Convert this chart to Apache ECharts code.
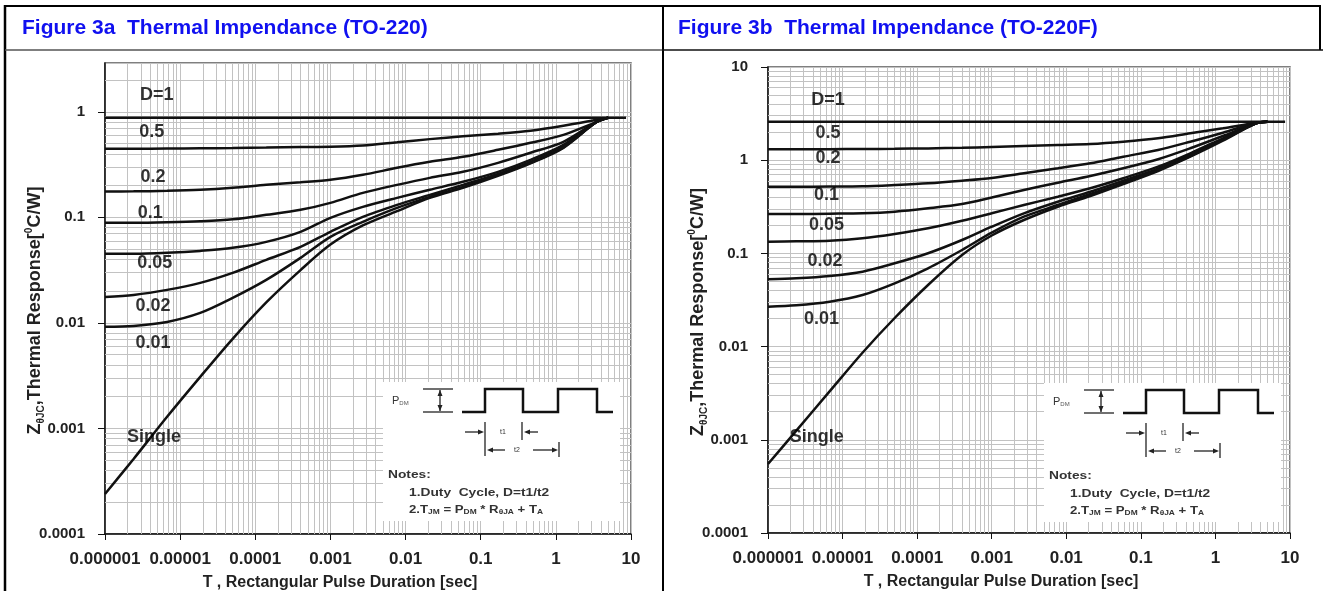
<!DOCTYPE html>
<html><head><meta charset="utf-8">
<script src="https://cdn.jsdelivr.net/npm/echarts@6/dist/echarts.min.js"></script>
<style>html,body{margin:0;padding:0;background:#fff;}#c{width:1323px;height:591px;}</style>
</head><body><div id="c"></div>
<script>
// ---------- data ----------
const times = [1e-6, 2.4e-6, 6.7e-6, 1.85e-5, 5e-5, 1.4e-4, 4e-4, 1e-3, 2.7e-3, 7.7e-3, 0.021, 0.058, 0.17, 0.46, 1.26, 3.5, 5, 8.6];
const seriesNames = ['D=1', '0.5', '0.2', '0.1', '0.05', '0.02', '0.01', 'Single'];

// Figure 3a (TO-220)
const a_D1     = [0.88, 0.88, 0.88, 0.88, 0.88, 0.88, 0.88, 0.88, 0.88, 0.88, 0.88, 0.88, 0.88, 0.88, 0.88, 0.88, 0.88, 0.88];
const a_D05    = [0.446, 0.446, 0.448, 0.451, 0.454, 0.458, 0.463, 0.466, 0.479, 0.514, 0.551, 0.586, 0.619, 0.661, 0.737, 0.840, 0.88, null];
const a_D02    = [0.1756, 0.1764, 0.1783, 0.1823, 0.1904, 0.2032, 0.2146, 0.2267, 0.2528, 0.2945, 0.3357, 0.3745, 0.4363, 0.5083, 0.6053, 0.804, 0.88, null];
const a_D01    = [0.0887, 0.0887, 0.0897, 0.0917, 0.0957, 0.1056, 0.1178, 0.1372, 0.1707, 0.2032, 0.2367, 0.2700, 0.3285, 0.4088, 0.5195, 0.804, 0.88, null];
const a_D005   = [0.0451, 0.0451, 0.0461, 0.0481, 0.0514, 0.0586, 0.0729, 0.0989, 0.1257, 0.1530, 0.1823, 0.2171, 0.2700, 0.3508, 0.4866, 0.804, 0.88, null];
const a_D002   = [0.01764, 0.01842, 0.02055, 0.02394, 0.02977, 0.03956, 0.05253, 0.0729, 0.1011, 0.1314, 0.1634, 0.2032, 0.2584, 0.3357, 0.4658, 0.804, 0.88, null];
const a_D001   = [0.00917, 0.00937, 0.01022, 0.01244, 0.01726, 0.02556, 0.0413, 0.0653, 0.0907, 0.1230, 0.1564, 0.1946, 0.2528, 0.3285, 0.4608, 0.804, 0.88, null];
const a_Single = [2.393e-4, 5.14e-4, 1.29e-3, 3.083e-3, 7.07e-3, 0.01564, 0.03166, 0.0552, 0.0838, 0.1145, 0.1530, 0.1904, 0.2473, 0.3249, 0.4558, 0.804, 0.88, null];

// Figure 3b (TO-220F)
const b_D1     = [2.59, 2.59, 2.59, 2.59, 2.59, 2.59, 2.59, 2.59, 2.59, 2.59, 2.59, 2.59, 2.59, 2.59, 2.59, 2.59, 2.59, 2.59];
const b_D05    = [1.309, 1.309, 1.312, 1.319, 1.326, 1.339, 1.359, 1.386, 1.420, 1.456, 1.492, 1.579, 1.718, 1.944, 2.199, 2.526, 2.589, null];
const b_D02    = [0.5196, 0.5196, 0.5208, 0.5248, 0.5419, 0.5651, 0.6026, 0.6442, 0.7233, 0.8187, 0.9263, 1.0904, 1.286, 1.579, 1.973, 2.526, 2.589, null];
const b_D01    = [0.2647, 0.2647, 0.2667, 0.2693, 0.2802, 0.3047, 0.3388, 0.3979, 0.4789, 0.5736, 0.6767, 0.8187, 1.0226, 1.342, 1.818, 2.489, 2.589, null];
const b_D005   = [0.1335, 0.1348, 0.1368, 0.1452, 0.1615, 0.1859, 0.2243, 0.2693, 0.3306, 0.4058, 0.4995, 0.6394, 0.8517, 1.186, 1.718, 2.489, 2.589, null];
const b_D002   = [0.05273, 0.05405, 0.05721, 0.06364, 0.07829, 0.1003, 0.1392, 0.1934, 0.2693, 0.3587, 0.4592, 0.6026, 0.8107, 1.137, 1.676, 2.489, 2.589, null];
const b_D001   = [0.02680, 0.02773, 0.03032, 0.03578, 0.04777, 0.06921, 0.1088, 0.1668, 0.2475, 0.3306, 0.4338, 0.5736, 0.7849, 1.1094, 1.647, 2.489, 2.589, null];
const b_Single = [5.497e-4, 1.255e-3, 3.306e-3, 8.6e-3, 0.02027, 0.04581, 0.0961, 0.1556, 0.2282, 0.3170, 0.4128, 0.5554, 0.7660, 1.0904, 1.619, 2.489, 2.589, null];

// curve label anchors (data space)
const labelsA = [['D=1', 4.9e-6, 1.45], ['0.5', 4.2e-6, 0.646], ['0.2', 4.36e-6, 0.242], ['0.1', 4.0e-6, 0.110], ['0.05', 4.6e-6, 0.037], ['0.02', 4.36e-6, 0.0145], ['0.01', 4.36e-6, 0.00646], ['Single', 4.5e-6, 8.3e-4]];
const labelsB = [['D=1', 6.4e-6, 4.43], ['0.5', 6.4e-6, 1.94], ['0.2', 6.4e-6, 1.05], ['0.1', 6.1e-6, 0.423], ['0.05', 6.1e-6, 0.2017], ['0.02', 5.8e-6, 0.0835], ['0.01', 5.2e-6, 0.0196], ['Single', 4.5e-6, 1.08e-3]];

// tick labels
const xTickLabels = ['0.000001', '0.00001', '0.0001', '0.001', '0.01', '0.1', '1', '10'];
const yTickLabels = ['0.0001', '0.001', '0.01', '0.1', '1', '10'];

const titleA = 'Figure 3a  Thermal Impendance (TO-220)';
const titleB = 'Figure 3b  Thermal Impendance (TO-220F)';
const xName = 'T , Rectangular Pulse Duration [sec]';

// ---------- chart ----------
const FONT = 'Liberation Sans, Arial, sans-serif';
const chart = echarts.init(document.getElementById('c'));

function minorVals(e0, e1, maxV) {
  const a = [];
  for (let e = e0; e <= e1; e++) for (let k = 2; k <= 9; k++) { const v = k * Math.pow(10, e); if (v < maxV) a.push(v); }
  return a;
}
const GRIDC = '#c2c2c2';
function gridSeries(idx, yMax) {
  const d = minorVals(-6, 0, 10).map(v => ({ xAxis: v })).concat(minorVals(-4, 0, yMax).map(v => ({ yAxis: v })));
  return { type: 'line', xAxisIndex: idx, yAxisIndex: idx, data: [], z: 1, silent: true,
    markLine: { silent: true, symbol: 'none', animation: false, precision: 20, label: { show: false },
      lineStyle: { color: GRIDC, width: 1, type: 'solid' }, emphasis: { disabled: true }, data: d } };
}
function curve(idx, name, vals) {
  const data = [];
  times.forEach((t, i) => { if (vals[i] != null) data.push([t, vals[i]]); });
  return { type: 'line', name, xAxisIndex: idx, yAxisIndex: idx, data, symbol: 'none', showSymbol: false,
    smooth: 0.3, silent: true, z: 5,
    lineStyle: { color: '#111', width: 2.5 } };
}
function labelSeries(idx, arr) {
  return { type: 'scatter', xAxisIndex: idx, yAxisIndex: idx, symbolSize: 0, silent: true, z: 6,
    data: arr.map(l => [l[1], l[2], l[0]]),
    label: { show: true, position: 'inside', formatter: p => p.data[2], color: '#000', fontSize: 18, fontWeight: 'bold', fontFamily: FONT } };
}
function xAxis(idx) {
  return { type: 'log', gridIndex: idx, min: 1e-6, max: 10, logBase: 10,
    name: xName, nameLocation: 'middle', nameGap: 41, nameMoveOverlap: false,
    nameTextStyle: { color: '#222', fontSize: 16, fontWeight: 'bold', fontFamily: FONT, padding: [0, 56, 0, 0] },
    axisLine: { show: true, lineStyle: { color: '#111', width: 1.5 } },
    axisTick: { show: true, length: 6, lineStyle: { color: '#111' } },
    axisLabel: { margin: 17, color: '#222', fontSize: 17, fontWeight: 'bold', fontFamily: FONT,
      formatter: v => xTickLabels[Math.round(Math.log10(v)) + 6] },
    splitLine: { show: true, lineStyle: { color: GRIDC, width: 1 } } };
}
function yAxis(idx, max) {
  return { type: 'log', gridIndex: idx, min: 1e-4, max, logBase: 10,
    name: 'Z{sub|θJC},Thermal Response[{sup|0}C/W]', nameLocation: 'middle', nameGap: 59, nameMoveOverlap: false,
    nameTextStyle: { color: '#222', fontSize: 18, fontWeight: 'bold', fontFamily: FONT, lineHeight: 22, padding: [0, 24, 0, 0],
      rich: { sub: { fontSize: 10, fontWeight: 'bold', verticalAlign: 'bottom', lineHeight: 22, fontFamily: FONT, color: '#222' },
              sup: { fontSize: 10, fontWeight: 'bold', verticalAlign: 'top', lineHeight: 22, fontFamily: FONT, color: '#222' } } },
    axisLine: { show: true, lineStyle: { color: '#111', width: 1.5 } },
    axisTick: { show: true, length: 7, lineStyle: { color: '#111' } },
    axisLabel: { margin: 20, color: '#222', fontSize: 15, fontWeight: 'bold', fontFamily: FONT, showMaxLabel: max >= 10,
      formatter: v => yTickLabels[Math.round(Math.log10(v)) + 4] },
    splitLine: { show: true, lineStyle: { color: GRIDC, width: 1 } } };
}

// inset diagram
function inset(ox, oy) {
  const g = [];
  const C = '#222';
  const L = (x1, y1, x2, y2, w) => g.push({ type: 'line', silent: true, z: 21,
    shape: { x1: ox + x1, y1: oy + y1, x2: ox + x2, y2: oy + y2 }, style: { stroke: C, lineWidth: w || 1.3 } });
  const A = (x, y, dir) => {
    let p;
    if (dir === 'r') p = [[x, y], [x - 6, y - 2.5], [x - 6, y + 2.5]];
    if (dir === 'l') p = [[x, y], [x + 6, y - 2.5], [x + 6, y + 2.5]];
    if (dir === 'u') p = [[x, y], [x - 2.5, y + 6], [x + 2.5, y + 6]];
    if (dir === 'd') p = [[x, y], [x - 2.5, y - 6], [x + 2.5, y - 6]];
    g.push({ type: 'polygon', silent: true, z: 21, shape: { points: p.map(q => [ox + q[0], oy + q[1]]) }, style: { fill: C } });
  };
  const T = (x, y, text, size, bold, sx, rich) => g.push({ type: 'text', silent: true, z: 21, x: ox + x, y: oy + y, scaleX: sx || 1,
    style: { text, fill: '#333', font: (bold ? 'bold ' : '') + size + 'px ' + FONT, verticalAlign: 'middle', align: 'left', rich: rich || {} } });
  g.push({ type: 'rect', silent: true, z: 20, shape: { x: ox, y: oy, width: 237, height: 139 }, style: { fill: '#fff' } });
  // P_DM and I-beam
  T(9, 19, 'P{s|DM}', 11, false, 1, { s: { fontSize: 6, verticalAlign: 'bottom', fill: '#555' } });
  L(40, 7, 70, 7); L(40, 30, 70, 30); L(57, 8, 57, 29);
  A(57, 8, 'u'); A(57, 29, 'd');
  // pulse train
  g.push({ type: 'polyline', silent: true, z: 21,
    shape: { points: [[79, 30], [102, 30], [102, 7], [140, 7], [140, 30], [175, 30], [175, 7], [214, 7], [214, 30], [230, 30]].map(q => [ox + q[0], oy + q[1]]) },
    style: { stroke: '#111', lineWidth: 2.5, fill: null } });
  // t1
  L(82, 50, 96, 50); A(101, 50, 'r'); L(102, 40, 102, 74);
  T(117, 50, 't1', 7, false);
  L(139, 40, 139, 58); A(141, 50, 'l'); L(146, 50, 155, 50);
  // t2
  A(104, 68, 'l'); L(109, 68, 122, 68); T(131, 68, 't2', 7, false);
  L(150, 68, 170, 68); A(175, 68, 'r'); L(176, 60, 176, 75);
  // notes
  T(5, 93, 'Notes:', 11, true, 1.25);
  T(26, 111, '1.Duty  Cycle, D=t1/t2', 11, true, 1.25);
  T(26, 128, '2.T{s|JM} = P{s|DM} * R{s|θJA} + T{s|A}', 11, true, 1.2,
    { s: { fontSize: 7, fontWeight: 'bold', verticalAlign: 'bottom', fill: '#333', fontFamily: FONT } });
  return g;
}

const frame = [
  { type: 'line', shape: { x1: 4, y1: 6, x2: 1321, y2: 6 }, style: { stroke: '#000', lineWidth: 2 } },
  { type: 'line', shape: { x1: 5, y1: 5, x2: 5, y2: 591 }, style: { stroke: '#000', lineWidth: 2.5 } },
  { type: 'line', shape: { x1: 663, y1: 5, x2: 663, y2: 591 }, style: { stroke: '#000', lineWidth: 2 } },
  { type: 'line', shape: { x1: 1320, y1: 5, x2: 1320, y2: 50 }, style: { stroke: '#000', lineWidth: 2 } },
  { type: 'line', shape: { x1: 5, y1: 50, x2: 662, y2: 50 }, style: { stroke: '#555', lineWidth: 1.5 } },
  { type: 'line', shape: { x1: 662, y1: 50, x2: 1323, y2: 50 }, style: { stroke: '#111', lineWidth: 1.5 } },
  { type: 'text', x: 22, y: 28, style: { text: titleA, fill: '#1010f0', font: 'bold 21px ' + FONT, verticalAlign: 'middle' } },
  { type: 'text', x: 678, y: 28, style: { text: titleB, fill: '#1010f0', font: 'bold 21px ' + FONT, verticalAlign: 'middle' } }
];

const seriesA = [a_D1, a_D05, a_D02, a_D01, a_D005, a_D002, a_D001, a_Single];
const seriesB = [b_D1, b_D05, b_D02, b_D01, b_D005, b_D002, b_D001, b_Single];

const option = {
  animation: false,
  backgroundColor: '#fff',
  grid: [
    { left: 105, top: 63, width: 526, height: 471, outerBoundsMode: 'none', containLabel: false, show: true, borderColor: '#555', borderWidth: 1.5, backgroundColor: 'transparent' },
    { left: 768, top: 67, width: 522, height: 466, outerBoundsMode: 'none', containLabel: false, show: true, borderColor: '#555', borderWidth: 1.5, backgroundColor: 'transparent' }
  ],
  xAxis: [xAxis(0), xAxis(1)],
  yAxis: [yAxis(0, 2.9), yAxis(1, 10)],
  series: [gridSeries(0, 2.9), gridSeries(1, 10)]
    .concat(seriesA.map((v, i) => curve(0, seriesNames[i], v)))
    .concat(seriesB.map((v, i) => curve(1, seriesNames[i], v)))
    .concat([labelSeries(0, labelsA), labelSeries(1, labelsB)]),
  graphic: { elements: frame.concat(inset(383, 382)).concat(inset(1044, 383)) }
};
chart.setOption(option);
</script>
</body></html>
